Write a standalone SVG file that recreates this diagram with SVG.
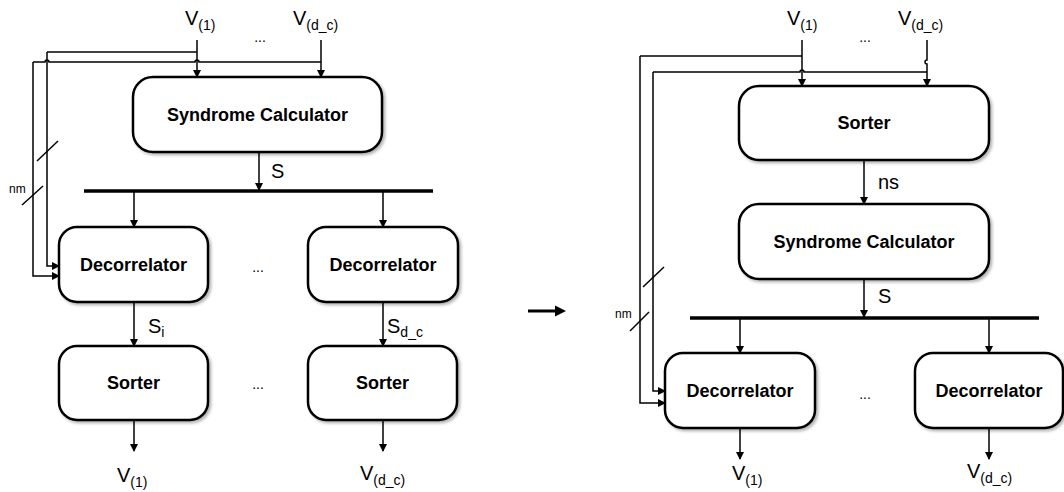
<svg xmlns="http://www.w3.org/2000/svg" width="1064" height="492" viewBox="0 0 1064 492">
<defs>
<marker id="ah" markerWidth="8" markerHeight="8" refX="7" refY="4" orient="auto" markerUnits="userSpaceOnUse">
<path d="M0,0 L8,4 L0,8 Z" fill="#000"/>
</marker>
<filter id="sh" x="-10%" y="-10%" width="125%" height="130%">
<feDropShadow dx="2" dy="2" stdDeviation="1.5" flood-color="#000" flood-opacity="0.3"/>
</filter>
<style>
.box{fill:#fff;stroke:#000;stroke-width:2.5;filter:url(#sh)}
.bt{font-family:"Liberation Sans",Arial,sans-serif;font-weight:bold;font-size:18px;text-anchor:middle}
.lb{font-family:"Liberation Sans",Arial,sans-serif;font-size:20px}
.sub{font-size:14px}
.dots{font-family:"Liberation Sans",Arial,sans-serif;font-size:14px;text-anchor:middle}
.nm{font-family:"Liberation Sans",Arial,sans-serif;font-size:12px}
.c{fill:none;stroke:#000;stroke-width:1.5}
.ca{fill:none;stroke:#000;stroke-width:1.5;marker-end:url(#ah)}
.bus{stroke:#000;stroke-width:3.5}
</style>
</defs>
<rect width="1064" height="492" fill="#fff"/>

<!-- LEFT DIAGRAM -->
<g id="left-syndrome"><rect class="box" x="133" y="77" width="249" height="75" rx="20"/><text class="bt" x="257.5" y="121">Syndrome Calculator</text></g>
<g id="left-decorrelator-1"><rect class="box" x="59" y="227" width="149" height="75" rx="18"/><text class="bt" x="133.5" y="271">Decorrelator</text></g>
<g id="left-decorrelator-2"><rect class="box" x="308" y="227" width="150" height="75" rx="18"/><text class="bt" x="383" y="271">Decorrelator</text></g>
<g id="left-sorter-1"><rect class="box" x="59" y="346" width="149" height="74" rx="18"/><text class="bt" x="133.5" y="389">Sorter</text></g>
<g id="left-sorter-2"><rect class="box" x="308" y="346" width="149" height="74" rx="18"/><text class="bt" x="382.5" y="389">Sorter</text></g>

<g id="left-labels">
<text class="lb" x="185" y="25">V<tspan class="sub" dy="5">(1)</tspan></text>
<text class="lb" x="293" y="25">V<tspan class="sub" dy="5">(d_c)</tspan></text>
<text class="dots" x="260" y="42">...</text>
<text class="lb" x="271" y="178">S</text>
<text class="dots" x="258" y="272">...</text>
<text class="lb" x="148" y="333">S<tspan class="sub" dy="4">i</tspan></text>
<text class="lb" x="387" y="333">S<tspan class="sub" dy="4">d_c</tspan></text>
<text class="dots" x="258" y="389">...</text>
<text class="lb" x="117" y="482">V<tspan class="sub" dy="5">(1)</tspan></text>
<text class="lb" x="360" y="480">V<tspan class="sub" dy="5">(d_c)</tspan></text>
<text class="nm" x="9" y="193">nm</text>
</g>

<!-- RIGHT DIAGRAM -->
<g id="right-sorter"><rect class="box" x="739" y="86" width="250" height="74" rx="20"/><text class="bt" x="864" y="129">Sorter</text></g>
<g id="right-syndrome"><rect class="box" x="739" y="204" width="250" height="75" rx="20"/><text class="bt" x="864" y="248">Syndrome Calculator</text></g>
<g id="right-decorrelator-1"><rect class="box" x="665" y="353" width="150" height="75" rx="18"/><text class="bt" x="740" y="397">Decorrelator</text></g>
<g id="right-decorrelator-2"><rect class="box" x="915" y="353" width="148" height="75" rx="18"/><text class="bt" x="989" y="397">Decorrelator</text></g>

<g id="right-labels">
<text class="lb" x="787" y="25">V<tspan class="sub" dy="5">(1)</tspan></text>
<text class="lb" x="898" y="25">V<tspan class="sub" dy="5">(d_c)</tspan></text>
<text class="dots" x="865" y="42">...</text>
<text class="lb" x="878" y="189">ns</text>
<text class="lb" x="878" y="303">S</text>
<text class="dots" x="865" y="399">...</text>
<text class="lb" x="732" y="480">V<tspan class="sub" dy="5">(1)</tspan></text>
<text class="lb" x="967" y="478">V<tspan class="sub" dy="5">(d_c)</tspan></text>
<text class="nm" x="615" y="318">nm</text>
</g>

<g id="connectors">
<!-- left -->
<line class="ca" x1="197" y1="40" x2="197" y2="77"/>
<line class="ca" x1="321" y1="40" x2="321" y2="77"/>
<path class="c" d="M197,52 H47"/>
<path class="ca" d="M47,52 V266 H59"/>
<path class="c" d="M321,62 H199 A2,2 0 0 0 195,62 H49 A2,2 0 0 0 45,62 H33"/>
<path class="ca" d="M33,62 V276 H59"/>
<line class="c" x1="37" y1="161" x2="58" y2="141"/>
<line class="c" x1="22" y1="205" x2="43" y2="186"/>
<line class="ca" x1="259" y1="152" x2="259" y2="190"/>
<line class="bus" x1="84" y1="191" x2="433" y2="191"/>
<line class="ca" x1="134" y1="192" x2="134" y2="227"/>
<line class="ca" x1="383" y1="192" x2="383" y2="227"/>
<line class="ca" x1="134" y1="302" x2="134" y2="346"/>
<line class="ca" x1="383" y1="302" x2="383" y2="346"/>
<line class="ca" x1="134" y1="420" x2="134" y2="451"/>
<line class="ca" x1="383" y1="420" x2="383" y2="451"/>
<!-- middle arrow -->
<line x1="528" y1="311" x2="557" y2="311" stroke="#000" stroke-width="3"/>
<polygon points="555,305.5 566,311 555,316.5" fill="#000"/>
<!-- right -->
<line class="ca" x1="802" y1="40" x2="802" y2="86"/>
<path class="c" d="M927,40 V60 A2,2 0 0 0 927,64 V72"/>
<line class="ca" x1="927" y1="72" x2="927" y2="86"/>
<path class="c" d="M802,56 H640"/>
<path class="ca" d="M640,56 V403 H665"/>
<path class="c" d="M927,72 H804 A2,2 0 0 0 800,72 H653"/>
<path class="ca" d="M653,72 V391 H665"/>
<line class="c" x1="643" y1="287" x2="664" y2="267"/>
<line class="c" x1="630" y1="331" x2="649" y2="312"/>
<line class="ca" x1="864" y1="160" x2="864" y2="204"/>
<line class="ca" x1="864" y1="279" x2="864" y2="317"/>
<line class="bus" x1="690" y1="318" x2="1039" y2="318"/>
<line class="ca" x1="740" y1="319" x2="740" y2="353"/>
<line class="ca" x1="989" y1="319" x2="989" y2="353"/>
<line class="ca" x1="740" y1="428" x2="740" y2="459"/>
<line class="ca" x1="989" y1="428" x2="989" y2="459"/>
</g>
</svg>
